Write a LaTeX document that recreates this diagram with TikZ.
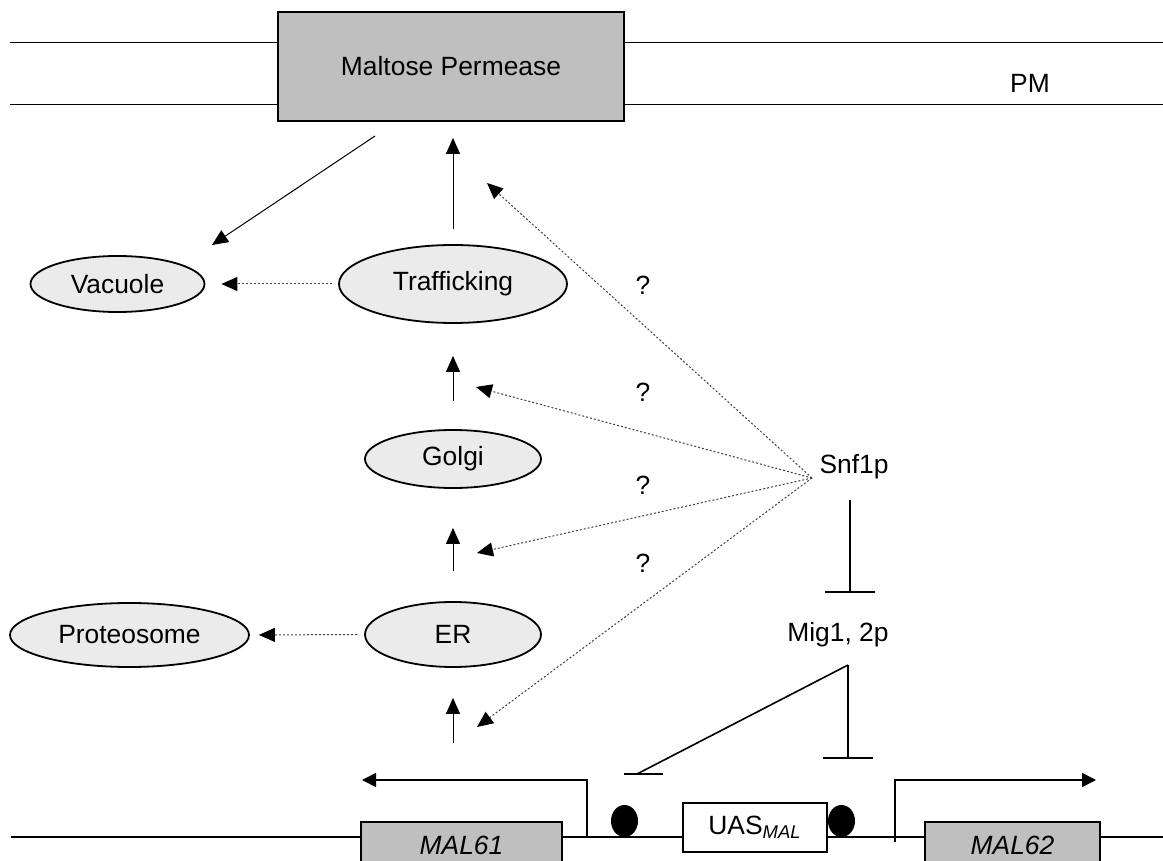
\documentclass[tikz,border=0pt]{standalone}
\usepackage{fontspec}
\setmainfont{Liberation Sans}
\usetikzlibrary{arrows.meta,positioning,shapes.geometric}
\tikzset{
  memb/.style={line width=0.9pt},
  permbox/.style={draw, line width=0.9pt, fill=black!25, minimum width=173pt, minimum height=54.5pt, inner sep=0pt},
  organelle/.style={draw, ellipse, line width=0.9pt, fill=black!8, inner sep=0pt},
  genebox/.style={draw, line width=0.9pt, fill=black!25, minimum width=100.5pt, minimum height=23pt, inner sep=0pt},
  uasbox/.style={draw, line width=0.9pt, fill=white, minimum width=72pt, minimum height=24.5pt, inner sep=0pt},
  site/.style={ellipse, fill=black, inner sep=0pt, minimum width=13.5pt, minimum height=16pt},
  arr/.style={-{Triangle[length=8pt,width=7pt]}, line width=0.5pt},
  dotarr/.style={-{Triangle[length=8pt,width=7pt,color=black]}, line width=0.5pt, draw=black!75, dash pattern=on 1pt off 1pt},
  prom/.style={-{Triangle[length=7pt,width=7pt]}, line width=0.8pt},
  inh/.style={-{Bar[width=25pt]}, line width=0.8pt},
  repline/.style={line width=0.8pt},
  dna/.style={line width=0.9pt}
}
\begin{document}
\begin{tikzpicture}[x=0.5pt, y=-0.5pt, font=\fontsize{13.2}{15.8}\selectfont]
\clip (0,0) rectangle (1163,861);
% plasma membrane
\draw[memb] (10,42.5) -- (1163,42.5);
\draw[memb] (10,104.5) -- (1163,104.5);
\node[permbox] (perm) at (451,66.5) {Maltose Permease};
\node (pm) at (1030,83) {PM};

% compartments
\node[organelle, minimum width=87pt, minimum height=28pt] (vac) at (117.5,284) {Vacuole};
\node[organelle, minimum width=114pt, minimum height=39pt] (traff) at (453,284) {Trafficking};
\node[organelle, minimum width=88pt, minimum height=29pt] (golgi) at (453,459) {Golgi};
\node[organelle, minimum width=88pt, minimum height=32.5pt] (er) at (453,634.5) {ER};
\node[organelle, minimum width=119.5pt, minimum height=32pt] (prot) at (129.5,635) {Proteosome};

\draw[arr, shorten <=7.5pt, shorten >=8pt] (traff.north) -- (traff.north |- perm.south);
\draw[arr, shorten <=14pt, shorten >=16pt] (golgi.north) -- (traff.south);
\draw[arr, shorten <=15pt, shorten >=19.5pt] (er.north) -- (golgi.south);
\coordinate (genetop) at (453,743);
\draw[arr, shorten >=15pt] (genetop) -- (er.south);
\coordinate (endo) at (375,136);
\coordinate (vactip) at (212,245);
\draw[arr] (endo) -- (vactip);
\draw[dotarr, shorten <=3pt, shorten >=8pt] (traff.west) -- (vac.east);
\draw[dotarr, shorten <=3.5pt, shorten >=4.5pt] (er.west) -- (prot.east);

% Snf1p targets
\node (snf1) at (854,467) {Snf1p};
\coordinate (snf) at (812,478);
\coordinate (tgt1) at (487,183);
\coordinate (tgt2) at (476,387);
\coordinate (tgt3) at (477,553);
\coordinate (tgt4) at (477,727);
\draw[dotarr] (snf) -- (tgt1);
\draw[dotarr] (snf) -- (tgt2);
\draw[dotarr] (snf) -- (tgt3);
\draw[dotarr] (snf) -- (tgt4);
\node (qm1) at (643,285) {?};
\node (qm2) at (643,392) {?};
\node (qm3) at (643,485) {?};
\node (qm4) at (643,563) {?};

% repression
\node (mig) at (838,635) {Mig1, 2p};
\coordinate (snfdown) at (850,500);
\coordinate (migbar) at (850,593);
\draw[inh] (snfdown) -- (migbar);
\coordinate (mighub) at (848,665);
\coordinate (uasbar) at (848,759);
\coordinate (tatabar) at (637,774);
\draw[inh] (mighub) -- (uasbar);
\draw[repline] (mighub) -- (tatabar);
\draw[repline] (624,774) -- (663,774);

% MAL locus
\draw[dna] (11,837) -- (1163,837);
\node[genebox] (mal61) at (461.5,845) {\itshape MAL61};
\node[genebox, minimum width=87.5pt] (mal62) at (1012.5,845) {\itshape MAL62};
\node[uasbox] (uas) at (755,827.5) {UAS\textsubscript{\itshape MAL}};
\node[site] (bs1) at (624.5,821) {};
\node[site] (bs2) at (841.5,821) {};
\coordinate (tss61) at (587,837);
\coordinate (tss62) at (895,842);
\draw[prom] (tss61) |- (362,780);
\draw[prom] (tss62) |- (1096,780);
\end{tikzpicture}
\end{document}
